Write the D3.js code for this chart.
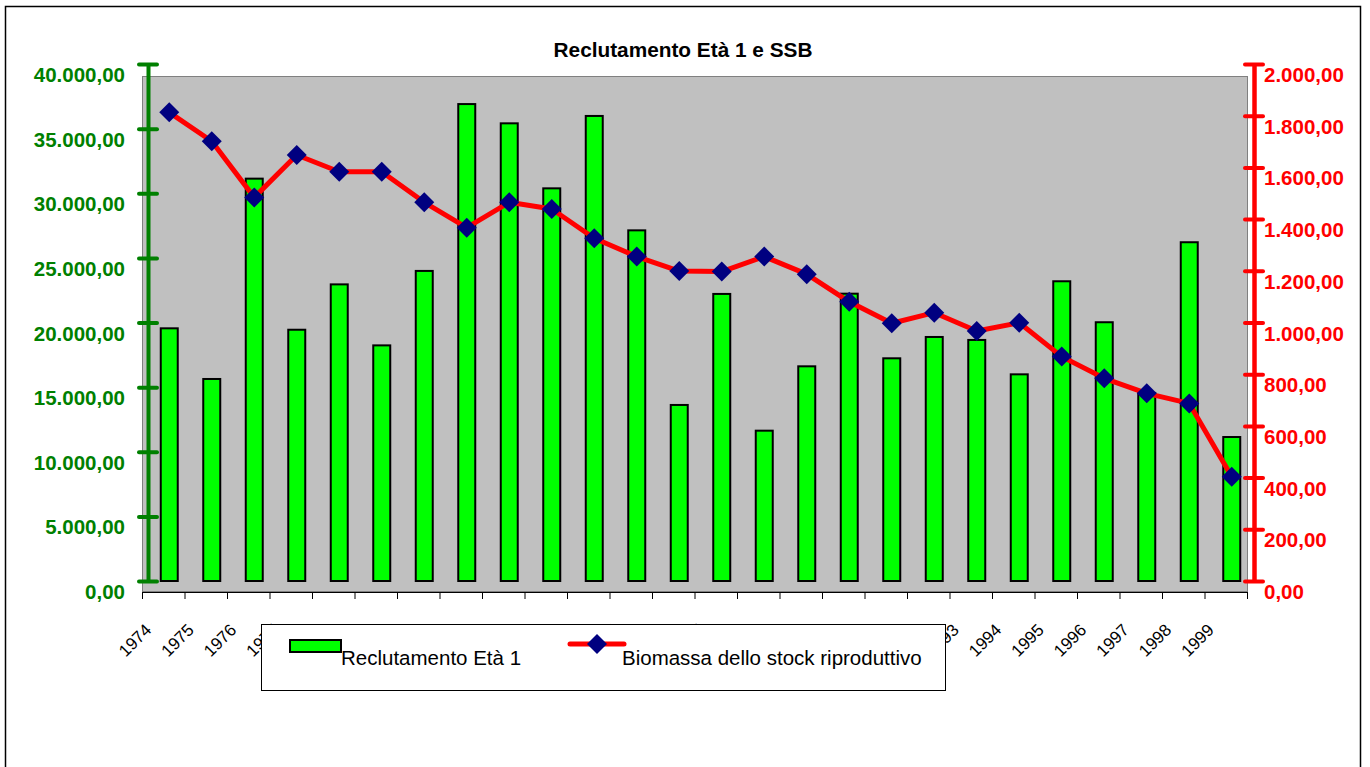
<!DOCTYPE html>
<html>
<head>
<meta charset="utf-8">
<script src="https://cdn.jsdelivr.net/npm/d3@7"></script>
<style>
  body { margin: 0; background: #fff; }
  text { font-family: "Liberation Sans", Arial, sans-serif; }
</style>
</head>
<body>
<figure id="chart" style="margin:0"></figure>
<script>
// categories
const years = ["1974", "1975", "1976", "1977", "1978", "1979", "1980", "1981", "1982", "1983",
  "1984", "1985", "1986", "1987", "1988", "1989", "1990", "1991", "1992", "1993",
  "1994", "1995", "1996", "1997", "1998", "1999"];

// Reclutamento Età 1 (left axis)
const recruitment = [19550, 15630, 31130, 19440, 22950, 18230, 23990, 36900, 35410, 30380,
  35980, 27130, 13620, 22210, 11630, 16610, 22230, 17230, 18880, 18650,
  15990, 23190, 20020, 14550, 26210, 11140];

// Biomassa dello stock riproduttivo (right axis)
const ssb = [1813, 1701, 1484, 1648, 1583, 1583, 1465, 1367, 1465, 1439,
  1326, 1255, 1199, 1197, 1255, 1187, 1080, 997, 1038, 967,
  999, 868, 784, 726, 687, 403];

const leftTicks = [0, 5000, 10000, 15000, 20000, 25000, 30000, 35000, 40000];
const rightTicks = [0, 200, 400, 600, 800, 1000, 1200, 1400, 1600, 1800, 2000];

const seriesNames = ["Reclutamento Età 1", "Biomassa dello stock riproduttivo"];
const title = "Reclutamento Età 1 e SSB";

const width = 1370, height = 767;
const green = "#008000", red = "#ff0000", navy = "#000080", barFill = "#00ff00";

const itFormat = d3.formatLocale({ decimal: ",", thousands: ".", grouping: [3], currency: ["", "€"] })
  .format(",.2f");

const svg = d3.select("figure#chart")
  .append("svg")
  .attr("width", width)
  .attr("height", height);

// chart area border
svg.append("rect")
  .attr("x", 5.5).attr("y", 6.5)
  .attr("width", 1355).attr("height", 780)
  .attr("fill", "#fff")
  .attr("stroke", "#000")
  .attr("stroke-width", 1.5);

// plot area
svg.append("rect")
  .attr("x", 142.5).attr("y", 76.5)
  .attr("width", 1105).attr("height", 515)
  .attr("fill", "#c0c0c0")
  .attr("stroke", "#808080")
  .attr("stroke-width", 1);

// title
svg.append("text")
  .attr("x", 683).attr("y", 57)
  .attr("text-anchor", "middle")
  .style("font-size", "20.8px")
  .style("font-weight", "bold")
  .text(title);

// scales
const x = d3.scaleBand()
  .domain(years)
  .range([148, 1253]);

const xTick = d3.scaleLinear()
  .domain([0, years.length])
  .range([142, 1247]);

const yLeft = d3.scaleLinear()
  .domain([0, 40000])
  .range([581, 64]);

const yRight = d3.scaleLinear()
  .domain([0, 2000])
  .range([581, 64]);

// category axis
const xAxis = svg.append("g")
  .attr("transform", "translate(0,592)")
  .call(d3.axisBottom(xTick)
    .tickValues(d3.range(years.length + 1))
    .tickSize(7)
    .tickSizeOuter(0)
    .tickFormat(i => years[i] || ""));

xAxis.selectAll("text")
  .attr("x", 0).attr("y", 0).attr("dy", 0)
  .attr("transform", "translate(10,39) rotate(-45)")
  .style("text-anchor", "end")
  .style("font-size", "17px")
  .attr("fill", "#000");

// bars
const barW = 17;
svg.selectAll("rect.bar")
  .data(recruitment)
  .enter()
  .append("rect")
  .attr("class", "bar")
  .attr("x", (d, i) => x(years[i]) + x.bandwidth() / 2 - barW / 2)
  .attr("y", d => yLeft(d))
  .attr("width", barW)
  .attr("height", d => yLeft(0) - yLeft(d))
  .attr("fill", barFill)
  .attr("stroke", "#000")
  .attr("stroke-width", 2);

// left axis
const leftAxis = svg.append("g")
  .attr("transform", "translate(148,0)")
  .call(d3.axisLeft(yLeft)
    .tickValues(leftTicks)
    .tickSize(9)
    .tickSizeOuter(0)
    .tickPadding(14)
    .tickFormat(itFormat));

leftAxis.select(".domain")
  .attr("stroke", green)
  .attr("stroke-width", 4);
leftAxis.selectAll(".tick line")
  .attr("x1", 9)
  .attr("stroke", green)
  .attr("stroke-width", 4)
  .attr("stroke-linecap", "round");
leftAxis.selectAll(".tick text")
  .attr("y", 11)
  .attr("fill", green)
  .style("font-size", "20.5px")
  .style("font-weight", "bold");

// right axis
const rightAxis = svg.append("g")
  .attr("transform", "translate(1254,0)")
  .call(d3.axisRight(yRight)
    .tickValues(rightTicks)
    .tickSize(9)
    .tickSizeOuter(0)
    .tickPadding(1)
    .tickFormat(itFormat));

rightAxis.select(".domain")
  .attr("stroke", red)
  .attr("stroke-width", 4.5);
rightAxis.selectAll(".tick line")
  .attr("x1", -9)
  .attr("stroke", red)
  .attr("stroke-width", 4)
  .attr("stroke-linecap", "round");
rightAxis.selectAll(".tick text")
  .attr("y", 11)
  .attr("fill", red)
  .style("font-size", "20.5px")
  .style("font-weight", "bold");

// SSB line
const line = d3.line()
  .x((d, i) => x(years[i]) + x.bandwidth() / 2)
  .y(d => yRight(d));

svg.append("path")
  .datum(ssb)
  .attr("d", line)
  .attr("fill", "none")
  .attr("stroke", red)
  .attr("stroke-width", 5)
  .attr("stroke-linejoin", "round");

const diamond = d3.symbol().type(d3.symbolSquare).size(200);

svg.selectAll("path.marker")
  .data(ssb)
  .enter()
  .append("path")
  .attr("class", "marker")
  .attr("d", diamond)
  .attr("transform", (d, i) => "translate(" + (x(years[i]) + x.bandwidth() / 2) + "," + yRight(d) + ") rotate(45)")
  .attr("fill", navy);

// legend
const legend = svg.append("g");

legend.append("rect")
  .attr("x", 261.5).attr("y", 624.5)
  .attr("width", 684).attr("height", 66)
  .attr("fill", "#fff")
  .attr("stroke", "#000")
  .attr("stroke-width", 1);

legend.append("rect")
  .attr("x", 290).attr("y", 640)
  .attr("width", 51).attr("height", 12)
  .attr("fill", barFill)
  .attr("stroke", "#000")
  .attr("stroke-width", 2);

legend.append("text")
  .attr("x", 341).attr("y", 665)
  .style("font-size", "20.5px")
  .text(seriesNames[0]);

legend.append("line")
  .attr("x1", 570).attr("x2", 624)
  .attr("y1", 644).attr("y2", 644)
  .attr("stroke", red)
  .attr("stroke-width", 5)
  .attr("stroke-linecap", "round");

legend.append("path")
  .attr("d", diamond)
  .attr("transform", "translate(597,644) rotate(45)")
  .attr("fill", navy);

legend.append("text")
  .attr("x", 622).attr("y", 665)
  .style("font-size", "20.5px")
  .text(seriesNames[1]);
</script>
</body>
</html>
